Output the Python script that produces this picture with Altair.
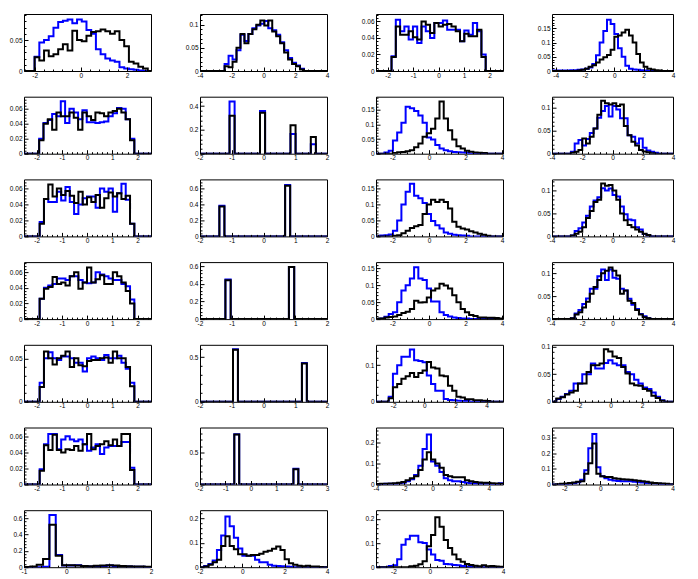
import math
import altair as alt
import pandas as pd

BLUE = "#0000ff"
BLACK = "#000000"
FONT = "Liberation Sans"

# ---------------- data (bin contents) ----------------
P11_BLUE = [0.023, 0.046, 0.05, 0.056, 0.07, 0.079, 0.081, 0.083, 0.077, 0.083, 0.08, 0.066,
            0.06, 0.035, 0.027, 0.02, 0.017, 0.015, 0.006, 0.004, 0.003, 0.002, 0.001, 0.0]
P11_BLACK = [0.022, 0.017, 0.033, 0.024, 0.027, 0.035, 0.043, 0.033, 0.065, 0.05, 0.048, 0.057,
             0.063, 0.064, 0.067, 0.064, 0.06, 0.064, 0.05, 0.04, 0.015, 0.012, 0.007, 0.004]

P12_BLUE = [0.015, 0.033, 0.025, 0.045, 0.078, 0.065, 0.08, 0.092, 0.098, 0.102, 0.108, 0.092,
            0.088, 0.078, 0.062, 0.045, 0.028, 0.018, 0.012, 0.005]
P12_BLACK = [0.01, 0.008, 0.02, 0.05, 0.08, 0.06, 0.08, 0.09, 0.1, 0.109, 0.098, 0.109,
             0.085, 0.075, 0.06, 0.04, 0.025, 0.015, 0.01, 0.003]

P13_BLUE = [0.018, 0.062, 0.048, 0.054, 0.038, 0.054, 0.034, 0.054, 0.048, 0.04, 0.058, 0.058,
            0.061, 0.05, 0.05, 0.05, 0.036, 0.049, 0.044, 0.058, 0.048, 0.02]
P13_BLACK = [0.017, 0.054, 0.044, 0.044, 0.048, 0.041, 0.038, 0.06, 0.056, 0.046, 0.058, 0.054,
             0.056, 0.057, 0.054, 0.048, 0.036, 0.045, 0.042, 0.042, 0.05, 0.017]

P14_BLUE = [0.002, 0.002, 0.002, 0.002, 0.002, 0.003, 0.003, 0.004, 0.005,
            0.008, 0.012, 0.025, 0.055, 0.1, 0.14, 0.18, 0.165, 0.13, 0.08, 0.05, 0.018,
            0.008, 0.005, 0.004, 0.003, 0.002, 0, 0, 0, 0, 0, 0, 0]
P14_BLACK = [0, 0, 0, 0, 0, 0, 0,
             0.002, 0.004, 0.008, 0.015, 0.02, 0.03, 0.04, 0.048, 0.056, 0.075, 0.12, 0.125,
             0.135, 0.145, 0.125, 0.1, 0.06, 0.03, 0.015, 0.008, 0.005, 0.003, 0.002, 0, 0, 0]

P21_BLUE = [0.02, 0.041, 0.045, 0.053, 0.05, 0.07, 0.041, 0.06, 0.055, 0.046, 0.058, 0.042,
            0.042, 0.041, 0.042, 0.043, 0.05, 0.054, 0.061, 0.06, 0.046, 0.02]
P21_BLACK = [0.018, 0.04, 0.046, 0.032, 0.055, 0.05, 0.05, 0.055, 0.048, 0.032, 0.055, 0.05,
             0.045, 0.055, 0.054, 0.05, 0.055, 0.057, 0.06, 0.055, 0.046, 0.018]

P22_BLUE = [0.44, 0, 0, 0, 0, 0, 0.36, 0, 0, 0, 0, 0, 0.165, 0, 0, 0, 0.08]
P22_BLACK = [0.32, 0, 0, 0, 0, 0, 0.345, 0, 0, 0, 0, 0, 0.24, 0, 0, 0, 0.14]

P23_BLUE = [0, 0, 0.004, 0.01, 0.045, 0.072, 0.105, 0.16, 0.155, 0.145, 0.13, 0.105, 0.055,
            0.048, 0.03, 0.018, 0.012, 0.008, 0.006, 0.005, 0.004, 0.003, 0, 0, 0, 0, 0, 0, 0, 0]
P23_BLACK = [0, 0, 0, 0, 0.002, 0.005, 0.006, 0.008, 0.012, 0.022, 0.035, 0.058, 0.07, 0.085,
             0.12, 0.178, 0.12, 0.08, 0.048, 0.025, 0.018, 0.01, 0.007, 0.004, 0.003, 0.002,
             0, 0, 0, 0]

P24_BLUE = [0, 0, 0, 0, 0,
            0.004, 0.022, 0.03, 0.018, 0.032, 0.045, 0.055, 0.078, 0.093, 0.104, 0.081, 0.104,
            0.096, 0.077, 0.077, 0.04, 0.037, 0.022, 0.033, 0.013, 0.007, 0.004, 0.002,
            0, 0, 0, 0]
P24_BLACK = [0, 0, 0, 0, 0,
             0.002, 0.004, 0.008, 0.033, 0.022, 0.037, 0.055, 0.085, 0.115, 0.11, 0.107, 0.11,
             0.104, 0.107, 0.06, 0.04, 0.026, 0.018, 0.008, 0.005, 0.003, 0.001,
             0, 0, 0, 0, 0]

P31_BLUE = [0.018, 0.047, 0.043, 0.043, 0.056, 0.045, 0.062, 0.043, 0.028, 0.04, 0.048, 0.05,
            0.05, 0.036, 0.06, 0.056, 0.06, 0.031, 0.054, 0.066, 0.046, 0.016]
P31_BLACK = [0.016, 0.047, 0.065, 0.05, 0.06, 0.052, 0.057, 0.051, 0.042, 0.056, 0.04, 0.049,
             0.043, 0.052, 0.036, 0.048, 0.055, 0.05, 0.054, 0.047, 0.051, 0.016]

P32_BLUE = [0.385, 0, 0, 0, 0, 0, 0, 0, 0, 0, 0, 0, 0, 0.645]
P32_BLACK = [0.375, 0, 0, 0, 0, 0, 0, 0, 0, 0, 0, 0, 0, 0.635]

P33_BLUE = [0, 0.003, 0.004, 0.006, 0.018, 0.05, 0.1, 0.14, 0.165, 0.128, 0.12, 0.105, 0.07,
            0.048, 0.035, 0.025, 0.012, 0.008, 0.005, 0.004, 0.003, 0.002, 0, 0, 0, 0, 0, 0, 0, 0]
P33_BLACK = [0, 0, 0, 0, 0.002, 0.004, 0.01, 0.018, 0.026, 0.032, 0.036, 0.07, 0.1, 0.115,
             0.108, 0.115, 0.108, 0.088, 0.046, 0.03, 0.025, 0.022, 0.016, 0.012, 0.008, 0.005,
             0.002, 0, 0, 0]

P34_BLUE = [0, 0, 0, 0, 0,
            0.002, 0.012, 0.018, 0.03, 0.045, 0.065, 0.078, 0.085, 0.105, 0.1, 0.104, 0.09,
            0.087, 0.065, 0.048, 0.037, 0.035, 0.02, 0.015, 0.005, 0.002,
            0, 0, 0, 0, 0, 0]
P34_BLACK = [0, 0, 0, 0, 0,
             0.002, 0.006, 0.01, 0.02, 0.04, 0.055, 0.075, 0.08, 0.115, 0.11, 0.112, 0.1,
             0.08, 0.05, 0.035, 0.025, 0.02, 0.015, 0.01, 0.006, 0.003,
             0, 0, 0, 0, 0, 0]

P41_BLUE = [0.026, 0.04, 0.043, 0.045, 0.052, 0.052, 0.05, 0.055, 0.055, 0.05, 0.047, 0.046,
            0.047, 0.06, 0.057, 0.055, 0.052, 0.05, 0.05, 0.045, 0.042, 0.025]
P41_BLACK = [0.026, 0.039, 0.041, 0.054, 0.045, 0.047, 0.043, 0.055, 0.06, 0.039, 0.047, 0.066,
             0.047, 0.051, 0.056, 0.045, 0.045, 0.06, 0.055, 0.047, 0.036, 0.02]

P42_BLUE = [0.45, 0, 0, 0, 0, 0, 0, 0, 0, 0, 0, 0, 0.59]
P42_BLACK = [0.44, 0, 0, 0, 0, 0, 0, 0, 0, 0, 0, 0, 0.59]

P43_BLUE = [0, 0.002, 0.007, 0.015, 0.02, 0.05, 0.084, 0.1, 0.12, 0.153, 0.12, 0.115, 0.09,
            0.052, 0.052, 0.02, 0.012, 0.008, 0.005, 0.003, 0.002, 0.002, 0, 0, 0, 0, 0, 0, 0, 0]
P43_BLACK = [0.001, 0.002, 0.005, 0.006, 0.008, 0.012, 0.018, 0.022, 0.03, 0.054, 0.049, 0.05,
             0.064, 0.084, 0.09, 0.104, 0.099, 0.09, 0.07, 0.05, 0.03, 0.02, 0.012, 0.009,
             0.005, 0.005, 0.004, 0.004, 0.003, 0.002]

P44_BLUE = [0, 0, 0, 0, 0,
            0.002, 0.012, 0.02, 0.033, 0.045, 0.066, 0.066, 0.093, 0.108, 0.085, 0.108, 0.09,
            0.088, 0.066, 0.062, 0.044, 0.031, 0.022, 0.011, 0.006, 0.002,
            0, 0, 0, 0, 0, 0]
P44_BLACK = [0, 0, 0, 0, 0,
             0.002, 0.01, 0.015, 0.025, 0.038, 0.055, 0.07, 0.085, 0.1, 0.105, 0.112, 0.105,
             0.095, 0.055, 0.062, 0.04, 0.035, 0.02, 0.01, 0.004, 0.002,
             0, 0, 0, 0, 0, 0]

P51_BLUE = [0.022, 0.05, 0.057, 0.05, 0.048, 0.052, 0.052, 0.05, 0.045, 0.045, 0.035, 0.05,
            0.052, 0.05, 0.048, 0.054, 0.05, 0.05, 0.053, 0.045, 0.038, 0.022]
P51_BLACK = [0.017, 0.058, 0.05, 0.043, 0.05, 0.053, 0.058, 0.04, 0.05, 0.042, 0.041, 0.047,
             0.048, 0.048, 0.05, 0.051, 0.045, 0.058, 0.05, 0.05, 0.04, 0.018]

P52_BLUE = [0.59, 0, 0, 0, 0, 0, 0, 0, 0, 0, 0, 0, 0, 0, 0.435]
P52_BLACK = [0.585, 0, 0, 0, 0, 0, 0, 0, 0, 0, 0, 0, 0, 0, 0.43]

P53_BLUE = [0, 0, 0, 0.014, 0.077, 0.1, 0.123, 0.123, 0.143, 0.114, 0.112, 0.108, 0.072, 0.049,
            0.03, 0.03, 0.008, 0.005, 0.004, 0.003, 0.002, 0.002, 0, 0, 0, 0, 0, 0, 0, 0]
P53_BLACK = [0, 0, 0, 0.01, 0.04, 0.049, 0.063, 0.07, 0.079, 0.068, 0.079, 0.086, 0.109, 0.094,
             0.091, 0.072, 0.07, 0.044, 0.03, 0.014, 0.012, 0.007, 0.007, 0.004, 0.004, 0.003,
             0.002, 0, 0, 0]

P54_BLUE = [0, 0.005, 0.009, 0.014, 0.02, 0.033, 0.033, 0.05, 0.05, 0.069, 0.06, 0.06, 0.07,
            0.075, 0.069, 0.066, 0.066, 0.054, 0.05, 0.04, 0.033, 0.026, 0.023, 0.017, 0.009,
            0.003, 0, 0]
P54_BLACK = [0, 0.006, 0.008, 0.013, 0.017, 0.02, 0.033, 0.033, 0.054, 0.066, 0.066, 0.069,
             0.095, 0.091, 0.082, 0.079, 0.063, 0.051, 0.033, 0.03, 0.029, 0.023, 0.02, 0.011,
             0.007, 0.002, 0, 0]

P61_BLUE = [0.019, 0.05, 0.063, 0.063, 0.044, 0.056, 0.06, 0.056, 0.054, 0.056, 0.05, 0.042,
            0.046, 0.05, 0.038, 0.046, 0.048, 0.048, 0.048, 0.053, 0.053, 0.021]
P61_BLACK = [0.017, 0.049, 0.043, 0.062, 0.043, 0.04, 0.044, 0.043, 0.048, 0.042, 0.05, 0.063,
             0.044, 0.048, 0.05, 0.054, 0.049, 0.056, 0.048, 0.063, 0.063, 0.018]

P62_BLUE = [0.785, 0, 0, 0, 0, 0, 0, 0, 0, 0, 0, 0, 0.245]
P62_BLACK = [0.78, 0, 0, 0, 0, 0, 0, 0, 0, 0, 0, 0, 0.24]

P63_BLUE = [0.002, 0.002, 0.003, 0.003, 0.004, 0.006, 0.008, 0.015, 0.025, 0.045, 0.09, 0.17,
            0.24, 0.11, 0.09, 0.06, 0.03, 0.02, 0.015, 0.015, 0.012, 0.008, 0.006, 0.005,
            0.004, 0.003, 0.003, 0.002, 0.002, 0.006]
P63_BLACK = [0.002, 0.003, 0.004, 0.005, 0.006, 0.008, 0.012, 0.02, 0.03, 0.04, 0.07, 0.12,
             0.155, 0.12, 0.1, 0.08, 0.045, 0.04, 0.035, 0.035, 0.035, 0.02, 0.015, 0.012,
             0.01, 0.008, 0.008, 0.006, 0.005, 0.004]

P64_BLUE = [0, 0, 0.002, 0.003, 0.005, 0.008, 0.015, 0.03, 0.09, 0.23, 0.32, 0.11, 0.052,
            0.04, 0.03, 0.025, 0.022, 0.02, 0.02, 0.02, 0.018, 0.015, 0.012, 0.01, 0.008,
            0.006, 0.004, 0.003, 0.002, 0]
P64_BLACK = [0, 0.002, 0.004, 0.006, 0.01, 0.012, 0.017, 0.02, 0.068, 0.135, 0.26, 0.068,
             0.052, 0.048, 0.048, 0.04, 0.037, 0.033, 0.031, 0.03, 0.027, 0.024, 0.02, 0.017,
             0.012, 0.01, 0.008, 0.006, 0.004, 0.002]

P71_BLUE = [0, 0, 0, 0.005, 0.64, 0.15, 0.02, 0.02, 0.025, 0.015, 0.01, 0.012, 0.015, 0.02,
            0.01, 0.012, 0.008, 0.006, 0.004, 0.003]
P71_BLACK = [0.002, 0.01, 0.03, 0.1, 0.52, 0.14, 0.025, 0.025, 0.02, 0.015, 0.012, 0.018, 0.02,
             0.025, 0.02, 0.015, 0.012, 0.01, 0.008, 0.006]

P72_BLUE = [0, 0.005, 0.013, 0.027, 0.07, 0.13, 0.207, 0.167, 0.12, 0.076, 0.047, 0.047, 0.047,
            0.03, 0.02, 0.02, 0.01, 0.006, 0.005, 0.004, 0.003, 0.002, 0, 0, 0, 0, 0, 0, 0, 0]
P72_BLACK = [0, 0.003, 0.01, 0.02, 0.03, 0.087, 0.127, 0.087, 0.073, 0.053, 0.053, 0.047, 0.05,
             0.05, 0.055, 0.063, 0.067, 0.075, 0.085, 0.07, 0.033, 0.016, 0.01, 0.006, 0.004,
             0.006, 0.003, 0.003, 0.001, 0]

P73_BLUE = [0, 0, 0, 0.005, 0.008, 0.033, 0.093, 0.116, 0.13, 0.13, 0.103, 0.1, 0.073, 0.053,
            0.03, 0.027, 0.013, 0.012, 0.009, 0.008, 0.005, 0.003, 0.002, 0, 0, 0, 0, 0, 0, 0]
P73_BLACK = [0, 0, 0, 0, 0, 0, 0, 0, 0.004, 0.006, 0.012, 0.025, 0.087, 0.133, 0.207, 0.167,
             0.113, 0.08, 0.053, 0.033, 0.023, 0.013, 0.009, 0.006, 0.004, 0.008, 0.004, 0.005,
             0.003, 0.002]

# histogram range (lo, hi), axis ranges and labelled ticks of every panel
PANELS = [
    (P11_BLUE, P11_BLACK, -2.0, 2.9, (-2.46, 3.04), [-2, 0, 2], (0, 0.092), [0, 0.05]),
    (P12_BLUE, P12_BLACK, -2.45, 2.55, (-4, 4), [-4, -2, 0, 2, 4], (0, 0.123), [0, 0.05, 0.1]),
    (P13_BLUE, P13_BLACK, -1.85, 1.85, (-2.46, 2.53), [-2, -1, 0, 1, 2], (0, 0.069), [0, 0.02, 0.04, 0.06]),
    (P14_BLUE, P14_BLACK, -4.25, 4.0, (-4.25, 4.0), [-4, -2, 0, 2, 4], (0, 0.2), [0, 0.05, 0.1, 0.15]),
    (P21_BLUE, P21_BLACK, -1.9, 1.87, (-2.5, 2.53), [-2, -1, 0, 1, 2], (0, 0.076), [0, 0.02, 0.04, 0.06]),
    (P22_BLUE, P22_BLACK, -1.07, 1.65, (-2, 2), [-2, -1, 0, 1, 2], (0, 0.48), [0, 0.2, 0.4]),
    (P23_BLUE, P23_BLACK, -2.9, 4.05, (-2.9, 4.05), [-2, 0, 2, 4], (0, 0.194), [0, 0.05, 0.1, 0.15]),
    (P24_BLUE, P24_BLACK, -4.0, 4.0, (-4, 4), [-4, -2, 0, 2, 4], (0, 0.124), [0, 0.05, 0.1]),
    (P31_BLUE, P31_BLACK, -1.88, 1.87, (-2.5, 2.53), [-2, -1, 0, 1, 2], (0, 0.0715), [0, 0.02, 0.04, 0.06]),
    (P32_BLUE, P32_BLACK, -1.39, 0.84, (-2, 2), [-2, -1, 0, 1, 2], (0, 0.715), [0, 0.2, 0.4, 0.6]),
    (P33_BLUE, P33_BLACK, -2.9, 4.05, (-2.9, 4.05), [-2, 0, 2, 4], (0, 0.179), [0, 0.05, 0.1, 0.15]),
    (P34_BLUE, P34_BLACK, -4.0, 4.0, (-4, 4), [-4, -2, 0, 2, 4], (0, 0.124), [0, 0.05, 0.1]),
    (P41_BLUE, P41_BLACK, -1.88, 1.87, (-2.5, 2.53), [-2, -1, 0, 1, 2], (0, 0.073), [0, 0.02, 0.04, 0.06]),
    (P42_BLUE, P42_BLACK, -1.2, 0.967, (-2, 2), [-2, -1, 0, 1, 2], (0, 0.646), [0, 0.2, 0.4, 0.6]),
    (P43_BLUE, P43_BLACK, -2.9, 4.05, (-2.9, 4.05), [-2, 0, 2, 4], (0, 0.168), [0, 0.05, 0.1, 0.15]),
    (P44_BLUE, P44_BLACK, -4.0, 4.0, (-4, 4), [-4, -2, 0, 2, 4], (0, 0.124), [0, 0.05, 0.1]),
    (P51_BLUE, P51_BLACK, -1.88, 1.87, (-2.5, 2.53), [-2, -1, 0, 1, 2], (0, 0.0656), [0, 0.05]),
    (P52_BLUE, P52_BLACK, -0.96, 1.365, (-2, 2), [-2, -1, 0, 1, 2], (0, 0.64), [0, 0.5]),
    (P53_BLUE, P53_BLACK, -3.1, 5.05, (-3.1, 5.05), [-2, 0, 2, 4], (0, 0.156), [0, 0.1]),
    (P54_BLUE, P54_BLACK, -3.72, 3.97, (-3.72, 3.97), [-2, 0, 2], (0, 0.103), [0, 0.05, 0.1]),
    (P61_BLUE, P61_BLACK, -1.88, 1.87, (-2.5, 2.53), [-2, -1, 0, 1, 2], (0, 0.071), [0, 0.02, 0.04, 0.06]),
    (P62_BLUE, P62_BLACK, -0.65, 1.872, (-2, 3), [-2, -1, 0, 1, 2, 3], (0, 0.89), [0, 0.5]),
    (P63_BLUE, P63_BLACK, -4.0, 5.0, (-4, 5), [-4, -2, 0, 2, 4], (0, 0.273), [0, 0.1, 0.2]),
    (P64_BLUE, P64_BLACK, -2.68, 4.02, (-2.68, 4.02), [-2, 0, 2, 4], (0, 0.362), [0, 0.1, 0.2, 0.3]),
    (P71_BLUE, P71_BLACK, -1.0, 2.0, (-1, 2), [-1, 0, 1, 2], (0, 0.70), [0, 0.2, 0.4, 0.6]),
    (P72_BLUE, P72_BLACK, -2.0, 4.0, (-2, 4), [-2, 0, 2, 4], (0, 0.233), [0, 0.1, 0.2]),
    (P73_BLUE, P73_BLACK, -2.95, 4.0, (-2.95, 4.0), [-2, 0, 2, 4], (0, 0.236), [0, 0.1, 0.2]),
]

PLOT_W = 127
PLOT_W_LAST = 121
PLOT_H = 57


def hist_outline(vals, lo, hi, dom):
    n = len(vals)
    w = (hi - lo) / n
    xs, ys = [dom[0], lo], [0.0, 0.0]
    for i, v in enumerate(vals):
        xs += [lo + i * w, lo + (i + 1) * w]
        ys += [v, v]
    xs += [hi, dom[1]]
    ys += [0.0, 0.0]
    return pd.DataFrame({"x": xs, "y": ys, "i": list(range(len(xs)))})


def tick_values(dom, labels):
    step = labels[1] - labels[0]
    minor = step / 5.0
    eps = (dom[1] - dom[0]) * 0.01
    k0 = math.ceil(dom[0] / minor - 1e-9)
    k1 = math.floor(dom[1] / minor + 1e-9)
    vals = {round(k * minor, 6) for k in range(k0, k1 + 1)
            if dom[0] + eps < k * minor < dom[1] - eps}
    vals |= {round(float(v), 6) for v in labels}
    return sorted(vals)


def make_axis(dom, labels, pad, extent):
    vals = tick_values(dom, labels)
    maj = "[" + ",".join(repr(round(float(v), 6)) for v in labels) + "]"
    is_major = f"indexof({maj}, datum.value) >= 0"
    return alt.Axis(
        values=vals,
        title=None,
        domain=False,
        grid=False,
        offset=-4,
        tickSize=4,
        tickWidth=1,
        tickColor="black",
        tickDash={"condition": {"test": f"!({is_major})", "value": [0, 2, 2, 0]},
                  "value": [10, 0]},
        labelExpr=f"{is_major} ? replace(format(datum.value, '~g'), '\u2212', '-') : ''",
        labelFont=FONT,
        labelFontSize=6.5,
        labelColor="black",
        labelPadding=pad,
        labelFlush=False,
        labelOverlap=False,
        minExtent=extent,
        maxExtent=extent,
        zindex=1,
    )


charts = []
for idx, (blue, black, lo, hi, xd, xl, yd, yl) in enumerate(PANELS):
    width = PLOT_W_LAST if idx % 4 == 3 else PLOT_W
    xenc = alt.X("x:Q", scale=alt.Scale(domain=list(xd), nice=False, zero=False),
                 axis=make_axis(xd, xl, 1, 13))
    yenc = alt.Y("y:Q", scale=alt.Scale(domain=list(yd), nice=False, zero=False),
                 axis=make_axis(yd, yl, 2, 19))
    lb = alt.Chart(hist_outline(blue, lo, hi, xd)).mark_line(
        color=BLUE, strokeWidth=2, clip=True).encode(x=xenc, y=yenc, order="i:Q")
    lk = alt.Chart(hist_outline(black, lo, hi, xd)).mark_line(
        color=BLACK, strokeWidth=2, clip=True).encode(x=xenc, y=yenc, order="i:Q")
    charts.append(alt.layer(lb, lk).properties(width=width, height=PLOT_H))

chart = (
    alt.concat(*charts, columns=4, spacing={"row": 25.7, "column": 49}, bounds="flush")
    .properties(padding={"left": 0, "top": 3, "right": 2, "bottom": 0}, background="white")
    .configure_view(stroke="black", strokeWidth=1, fill="white")
)

chart.save("out.html", embed_options={"renderer": "svg", "actions": False})
